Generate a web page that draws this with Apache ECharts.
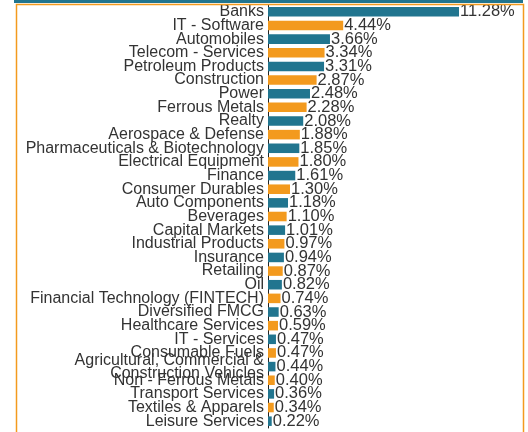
<!DOCTYPE html>
<html>
<head>
<meta charset="utf-8">
<script src="https://cdn.jsdelivr.net/npm/echarts@6/dist/echarts.min.js"></script>
<style>
  html, body { margin: 0; padding: 0; background: #fff; }
  #main { width: 528px; height: 432px; }
</style>
</head>
<body>
<div id="main"></div>
<script>
var sectors = ['Banks', 'IT - Software', 'Automobiles', 'Telecom - Services', 'Petroleum Products', 'Construction', 'Power', 'Ferrous Metals', 'Realty', 'Aerospace & Defense', 'Pharmaceuticals & Biotechnology', 'Electrical Equipment', 'Finance', 'Consumer Durables', 'Auto Components', 'Beverages', 'Capital Markets', 'Industrial Products', 'Insurance', 'Retailing', 'Oil', 'Financial Technology (FINTECH)', 'Diversified FMCG', 'Healthcare Services', 'IT - Services', 'Consumable Fuels', 'Agricultural, Commercial &\nConstruction Vehicles', 'Non - Ferrous Metals', 'Transport Services', 'Textiles & Apparels', 'Leisure Services'];
var weights = [11.28, 4.44, 3.66, 3.34, 3.31, 2.87, 2.48, 2.28, 2.08, 1.88, 1.85, 1.80, 1.61, 1.30, 1.18, 1.10, 1.01, 0.97, 0.94, 0.87, 0.82, 0.74, 0.63, 0.59, 0.47, 0.47, 0.44, 0.40, 0.36, 0.34, 0.22];
var barColors = ['#21758f', '#f39a1e'];

var myChart = echarts.init(document.getElementById('main'));

var option = {
    animation: false,
    textStyle: { fontFamily: 'Liberation Sans' },
    graphic: [
        // title band, mostly cut off at the top
        { type: 'rect', left: 14, top: 0, shape: { width: 509, height: 3 }, style: { fill: '#21758f' }, z: 10 },
        { type: 'rect', left: 14, top: 2, shape: { width: 507, height: 440 }, style: { fill: 'none', stroke: '#f39a1e', lineWidth: 1.5 }, z: 10 }
    ],
    grid: {
        top: 5,
        bottom: 4,
        left: 268,
        right: 6
    },
    xAxis: {
        type: 'value',
        min: 0,
        max: 15,
        show: false
    },
    yAxis: {
        type: 'category',
        inverse: true,
        data: sectors,
        axisLine: { show: true, lineStyle: { color: '#222', width: 1 } },
        axisTick: { show: false },
        axisLabel: {
            interval: 0,
            margin: 4,
            color: '#333',
            fontSize: 16,
            lineHeight: 13
        }
    },
    series: [
        {
            type: 'bar',
            data: weights.map(function (v, i) {
                return { value: v, itemStyle: { color: barColors[i % 2] } };
            }),
            barCategoryGap: '30%',
            label: {
                show: true,
                position: 'right',
                distance: 1,
                color: '#333',
                fontSize: 16.5,
                formatter: function (p) { return p.value.toFixed(2) + '%'; }
            }
        }
    ]
};

myChart.setOption(option);
</script>
</body>
</html>
